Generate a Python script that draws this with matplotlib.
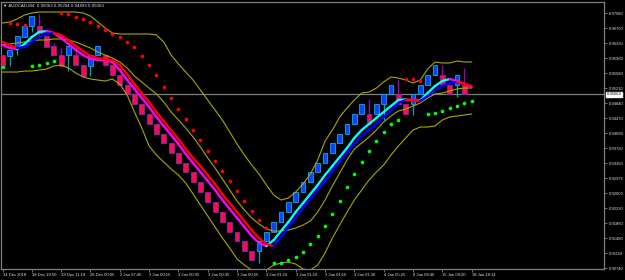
import matplotlib
matplotlib.use("Agg")
import matplotlib.pyplot as plt

# Renko bars (AUDCAD, M4 offline chart)
opens = [0.96036, 0.96011, 0.96235, 0.96483, 0.96757, 0.96757, 0.96508, 0.96259, 0.96036, 0.96036,
         0.96036, 0.95787, 0.95762, 0.96036, 0.96036, 0.95787, 0.95539, 0.95290, 0.95066, 0.94818,
         0.94569, 0.94320, 0.94072, 0.93848, 0.93599, 0.93351, 0.93127, 0.92879, 0.92630, 0.92381,
         0.92133, 0.91884, 0.91636, 0.91412, 0.91163, 0.91163, 0.91412, 0.91636, 0.91884, 0.92133,
         0.92381, 0.92630, 0.92879, 0.93127, 0.93351, 0.93599, 0.93848, 0.94072, 0.94320, 0.94569,
         0.94569, 0.94569, 0.94818, 0.95066, 0.95066, 0.94818, 0.94818, 0.95066, 0.95290, 0.95539,
         0.95539, 0.95290, 0.95290, 0.95290]
closes = [0.95787, 0.96160, 0.96508, 0.96757, 0.97005, 0.96583, 0.96235, 0.96036, 0.95762, 0.96259,
          0.95787, 0.95514, 0.96036, 0.96259, 0.95787, 0.95539, 0.95290, 0.95066, 0.94818, 0.94569,
          0.94320, 0.94072, 0.93848, 0.93599, 0.93351, 0.93127, 0.92879, 0.92630, 0.92381, 0.92133,
          0.91884, 0.91636, 0.91412, 0.91163, 0.90939, 0.91412, 0.91636, 0.91884, 0.92133, 0.92381,
          0.92630, 0.92879, 0.93127, 0.93351, 0.93599, 0.93848, 0.94072, 0.94320, 0.94569, 0.94818,
          0.94320, 0.94818, 0.95066, 0.95290, 0.94818, 0.94569, 0.95066, 0.95290, 0.95539, 0.95787,
          0.95290, 0.95066, 0.95539, 0.95066]
highs = [0.96036, 0.96160, 0.96508, 0.96757, 0.97005, 0.97055, 0.96508, 0.96334, 0.96210, 0.96259,
         0.96284, 0.95787, 0.96036, 0.96259, 0.96036, 0.95787, 0.95539, 0.95290, 0.95066, 0.94818,
         0.94569, 0.94320, 0.94072, 0.93848, 0.93599, 0.93351, 0.93127, 0.92879, 0.92630, 0.92381,
         0.92133, 0.91884, 0.91636, 0.91412, 0.91163, 0.91412, 0.91636, 0.91884, 0.92133, 0.92381,
         0.92630, 0.92879, 0.93127, 0.93351, 0.93599, 0.93848, 0.94072, 0.94320, 0.94569, 0.94818,
         0.94942, 0.94818, 0.95066, 0.95290, 0.95439, 0.94818, 0.95066, 0.95290, 0.95539, 0.95787,
         0.95787, 0.95290, 0.95539, 0.95713]
lows = [0.95787, 0.95762, 0.96036, 0.96483, 0.96608, 0.96508, 0.96235, 0.96036, 0.95762, 0.95638,
        0.95787, 0.95514, 0.95514, 0.96036, 0.95787, 0.95539, 0.95290, 0.95066, 0.94818, 0.94569,
        0.94320, 0.94072, 0.93848, 0.93599, 0.93351, 0.93127, 0.92879, 0.92630, 0.92381, 0.92133,
        0.91884, 0.91636, 0.91412, 0.91163, 0.90939, 0.90865, 0.91412, 0.91636, 0.91884, 0.92133,
        0.92381, 0.92630, 0.92879, 0.93127, 0.93351, 0.93599, 0.93848, 0.94072, 0.94320, 0.94569,
        0.94320, 0.94569, 0.94420, 0.95066, 0.94818, 0.94569, 0.94544, 0.95066, 0.95290, 0.95539,
        0.95290, 0.95066, 0.94992, 0.95066]

# Indicators, one value per bar (last one is the forming bar)
ma_fast = [0.96284, 0.96210, 0.96185, 0.96309, 0.96483, 0.96608, 0.96632, 0.96583, 0.96458, 0.96309,
           0.96160, 0.96036, 0.95936, 0.95911, 0.95911, 0.95862, 0.95663, 0.95414, 0.95191, 0.94967,
           0.94743, 0.94494, 0.94271, 0.94047, 0.93823, 0.93575, 0.93351, 0.93127, 0.92903, 0.92680,
           0.92431, 0.92207, 0.91984, 0.91760, 0.91536, 0.91362, 0.91287, 0.91437, 0.91660, 0.91884,
           0.92133, 0.92356, 0.92580, 0.92804, 0.93053, 0.93276, 0.93500, 0.93724, 0.93972, 0.94171,
           0.94320, 0.94470, 0.94619, 0.94768, 0.94917, 0.94930, 0.94917, 0.94905, 0.95091, 0.95265,
           0.95389, 0.95439, 0.95389, 0.95315, 0.95240]
ma_slow = [0.96359, 0.96284, 0.96210, 0.96235, 0.96359, 0.96483, 0.96558, 0.96583, 0.96533, 0.96409,
           0.96259, 0.96135, 0.96011, 0.95961, 0.95936, 0.95911, 0.95787, 0.95563, 0.95315, 0.95091,
           0.94867, 0.94619, 0.94395, 0.94171, 0.93948, 0.93699, 0.93475, 0.93276, 0.93053, 0.92829,
           0.92580, 0.92356, 0.92133, 0.91909, 0.91685, 0.91486, 0.91337, 0.91287, 0.91511, 0.91760,
           0.91984, 0.92232, 0.92456, 0.92680, 0.92903, 0.93152, 0.93376, 0.93599, 0.93823, 0.94022,
           0.94171, 0.94320, 0.94494, 0.94644, 0.94843, 0.94917, 0.94905, 0.94892, 0.95016, 0.95141,
           0.95265, 0.95340, 0.95365, 0.95315, 0.95265]
bb_upper = [0.96831, 0.96856, 0.96931, 0.97030, 0.97080, 0.97105, 0.97105, 0.97105, 0.97105, 0.97105,
            0.97105, 0.97080, 0.97005, 0.96856, 0.96707, 0.96583, 0.96558, 0.96558, 0.96558, 0.96558,
            0.96558, 0.96533, 0.96359, 0.96036, 0.95812, 0.95613, 0.95414, 0.95166, 0.94917, 0.94668,
            0.94420, 0.94122, 0.93823, 0.93550, 0.93301, 0.93077, 0.92804, 0.92555, 0.92431, 0.92481,
            0.92630, 0.92829, 0.93077, 0.93425, 0.93898, 0.94171, 0.94494, 0.94718, 0.94917, 0.95091,
            0.95116, 0.95215, 0.95365, 0.95489, 0.95464, 0.95414, 0.95340, 0.95414, 0.95688, 0.95862,
            0.95837, 0.95837, 0.95887, 0.95862, 0.95862]
bb_mid = [0.96284, 0.96309, 0.96334, 0.96359, 0.96384, 0.96409, 0.96409, 0.96434, 0.96434, 0.96409,
          0.96359, 0.96284, 0.96210, 0.96110, 0.96036, 0.95961, 0.95862, 0.95713, 0.95514, 0.95365,
          0.95215, 0.95066, 0.94867, 0.94619, 0.94420, 0.94221, 0.93997, 0.93749, 0.93475, 0.93227,
          0.92953, 0.92680, 0.92406, 0.92182, 0.91984, 0.91834, 0.91710, 0.91660, 0.91660, 0.91685,
          0.91735, 0.91810, 0.91909, 0.92133, 0.92431, 0.92779, 0.93102, 0.93425, 0.93699, 0.93848,
          0.93997, 0.94171, 0.94370, 0.94519, 0.94644, 0.94693, 0.94768, 0.94842, 0.94967, 0.95066,
          0.95091, 0.95141, 0.95191, 0.95215, 0.95215]
bb_lower = [0.95613, 0.95613, 0.95613, 0.95638, 0.95638, 0.95663, 0.95688, 0.95762, 0.95787, 0.95713,
            0.95588, 0.95489, 0.95439, 0.95414, 0.95389, 0.95439, 0.95315, 0.95041, 0.94619, 0.94221,
            0.93773, 0.93550, 0.93376, 0.93202, 0.93053, 0.92854, 0.92580, 0.92307, 0.92033, 0.91760,
            0.91486, 0.91238, 0.90964, 0.90815, 0.90691, 0.90641, 0.90691, 0.90815, 0.90865, 0.90890,
            0.90840, 0.90716, 0.90691, 0.90815, 0.91113, 0.91486, 0.91810, 0.92133, 0.92431, 0.92680,
            0.92928, 0.93127, 0.93301, 0.93550, 0.93773, 0.93972, 0.94171, 0.94246, 0.94246, 0.94271,
            0.94420, 0.94494, 0.94519, 0.94544, 0.94569]
sar = [0.95737, 0.96831, 0.96806, 0.96782, 0.95762, 0.95787, 0.95837, 0.95887, 0.97080, 0.97055,
       0.96980, 0.96931, 0.96856, 0.96757, 0.96657, 0.96558, 0.96483, 0.96359, 0.96235, 0.96011,
       0.95787, 0.95539, 0.95240, 0.94967, 0.94693, 0.94445, 0.94171, 0.93923, 0.93649, 0.93401,
       0.93152, 0.92903, 0.92655, 0.92406, 0.92158, 0.91934, 0.91735, 0.90865, 0.90865, 0.90939,
       0.91014, 0.91138, 0.91337, 0.91536, 0.91785, 0.92083, 0.92406, 0.92754, 0.93077, 0.93376,
       0.93649, 0.93898, 0.94122, 0.94320, 0.94420, 0.95439, 0.95439, 0.95389, 0.94569, 0.94594,
       0.94644, 0.94718, 0.94768, 0.94842, 0.94892]
sar_below = [1, 0, 0, 0, 1, 1, 1, 1, 0, 0,
             0, 0, 0, 0, 0, 0, 0, 0, 0, 0,
             0, 0, 0, 0, 0, 0, 0, 0, 0, 0,
             0, 0, 0, 0, 0, 0, 0, 1, 1, 1,
             1, 1, 1, 1, 1, 1, 1, 1, 1, 1,
             1, 1, 1, 1, 1, 0, 0, 0, 1, 1,
             1, 1, 1, 1, 1]

price_ticks = [0.97080, 0.96700, 0.96330, 0.95960, 0.95580, 0.95210, 0.94840, 0.94470, 0.94090,
               0.93720, 0.93350, 0.92975, 0.92600, 0.92230, 0.91860, 0.91480, 0.91110, 0.90740]
time_labels = ["14 Dec 2018", "18 Dec 19:50", "19 Dec 11:18", "26 Dec 00:05", "2 Jan 07:45",
               "3 Jan 00:15", "3 Jan 00:35", "3 Jan 00:35", "3 Jan 00:55", "3 Jan 01:10",
               "3 Jan 01:10", "3 Jan 01:10", "3 Jan 01:30", "4 Jan 05:25", "8 Jan 08:40",
               "15 Jan 04:20", "18 Jan 18:14"]
time_label_bars = list(range(0, 65, 4))

bid = 0.95063
title = "\u25bc AUDCAD,M4  0.95063 0.95204 0.94893 0.95063"

# Colors
band_color = "#a8a800"
grid_grey = "#7f7f7f"
text_color = "#e0e0e0"
fonts = ["Liberation Sans", "DejaVu Sans"]

fig = plt.figure(figsize=(6.25, 2.8), dpi=100, facecolor="black")
ax = fig.add_axes([1.5 / 625, 11.5 / 280, 602.5 / 625, 267 / 280])
ax.set_facecolor("black")
ax.set_xlim(-0.14, 82.06)
ax.set_ylim(0.90729, 0.97366)

# Bid line
ax.axhline(bid, color=grid_grey, lw=0.9, zorder=1)

# Candles
for i in range(len(opens)):
    up = closes[i] > opens[i]
    wick = "#00a8b0" if up else "#a000c0"
    fill = "#1040ff" if up else "#ff0a4a"
    edge = "#00b4d8" if up else "#7a2ab8"
    ax.vlines(i, lows[i], highs[i], color=wick, lw=0.9, zorder=2)
    ax.bar(i, closes[i] - opens[i], bottom=opens[i], width=0.66,
           color=fill, edgecolor=edge, linewidth=0.6, zorder=3)

# Bollinger bands
x = list(range(len(bb_upper)))
for band in (bb_upper, bb_mid, bb_lower):
    ax.plot(x, band, color=band_color, lw=0.8, zorder=4)


def draw_ma(values, up_color, down_color, z):
    for i in range(len(values) - 1):
        c = up_color if values[i + 1] > values[i] else down_color
        ax.plot([i, i + 1], values[i:i + 2], color=c, lw=1.7,
                solid_capstyle="round", zorder=z)


draw_ma(ma_fast, "#00ffff", "#ff00ff", 5)
draw_ma(ma_slow, "#0000ff", "#ff0000", 6)

# Parabolic SAR dots
for i, v in enumerate(sar):
    ax.scatter(i, v, s=7, color="#00ff00" if sar_below[i] else "#ff0000",
               linewidths=0, zorder=7)

# Axes styling
for side in ax.spines.values():
    side.set_color(grid_grey)
    side.set_linewidth(0.9)

ax.yaxis.tick_right()
ax.set_yticks(price_ticks)
ax.set_yticklabels([f"{v:.5f}" for v in price_ticks])
ax.tick_params(axis="y", colors=grid_grey, labelcolor=text_color, length=2.5,
               width=0.6, pad=1.0, labelsize=3.0)

ax.set_xticks(time_label_bars)
ax.set_xticklabels(time_labels)
ax.tick_params(axis="x", colors=grid_grey, labelcolor=text_color, length=2,
               width=0.6, pad=1.2, labelsize=3.0)
for lbl in ax.get_xticklabels() + ax.get_yticklabels():
    lbl.set_family(fonts)
for lbl in ax.get_xticklabels():
    lbl.set_ha("left")

# Current price box
ax.text(1.004, bid, f"{bid:.5f}", transform=ax.get_yaxis_transform(),
        ha="left", va="center", fontsize=3.0, color="black", family=fonts,
        bbox=dict(boxstyle="square,pad=0.15", fc="white", ec="white"))

# Title
ax.text(0.003, 0.992, title, transform=ax.transAxes, ha="left", va="top",
        fontsize=3.2, color=text_color, family=fonts, zorder=8)

fig.savefig("out.png", dpi=100, facecolor="black")
